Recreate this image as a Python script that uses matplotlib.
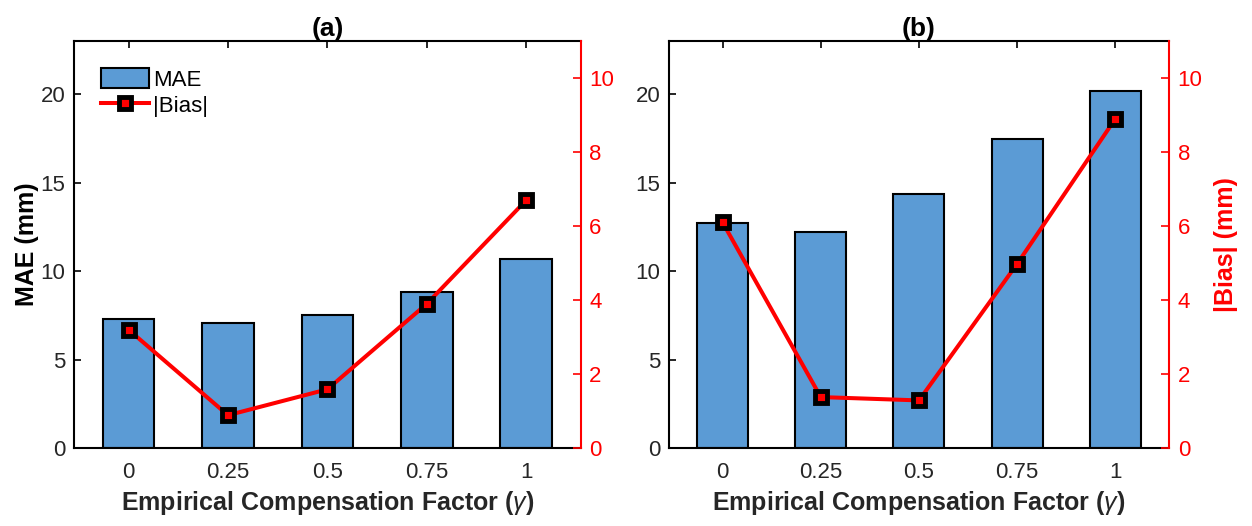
import matplotlib

matplotlib.use("Agg")
import matplotlib.pyplot as plt
from matplotlib.patches import Patch
from matplotlib.lines import Line2D

plt.rcParams["font.family"] = ["Liberation Sans", "DejaVu Sans"]
plt.rcParams["mathtext.fontset"] = "custom"
plt.rcParams["mathtext.it"] = "Liberation Sans:italic"

gamma = [0, 0.25, 0.5, 0.75, 1]
gamma_labels = ["0", "0.25", "0.5", "0.75", "1"]

mae_a = [7.30, 7.08, 7.50, 8.81, 10.70]
bias_a = [3.20, 0.89, 1.59, 3.90, 6.70]

mae_b = [12.70, 12.20, 14.37, 17.46, 20.20]
bias_b = [6.10, 1.38, 1.29, 4.98, 8.90]

BAR_COLOR = "#5b9bd5"
TEXT_COLOR = "#262626"
RED = "#ff0000"

line_style = dict(color=RED, linewidth=2.9, marker="s", markersize=8,
                  markerfacecolor=RED, markeredgecolor="black",
                  markeredgewidth=3.5)


def draw_panel(ax, mae, bias, title, left_label=None, right_label=None):
    ax.bar(gamma, mae, width=0.13, color=BAR_COLOR, edgecolor="black",
           linewidth=1.5, zorder=2)
    ax.set_xlim(-0.1375, 1.1375)
    ax.set_ylim(0, 23)
    ax.set_xticks(gamma)
    ax.set_xticklabels(gamma_labels)
    ax.set_yticks([0, 5, 10, 15, 20])
    ax.tick_params(axis="both", direction="in", length=5, width=1.2,
                   labelsize=16, labelcolor=TEXT_COLOR, top=True, pad=6)
    ax.tick_params(axis="x", pad=10)
    for side in ["left", "top", "bottom"]:
        ax.spines[side].set_linewidth(1.5)
        ax.spines[side].set_color("black")
    ax.spines["right"].set_visible(False)
    ax.set_xlabel(r"Empirical Compensation Factor ($\gamma$)",
                  fontsize=18, fontweight="bold", color=TEXT_COLOR, labelpad=4)
    ax.set_title(title, fontsize=19, fontweight="bold", pad=0)
    if left_label:
        ax.set_ylabel(left_label, fontsize=18, fontweight="bold", color="black",
                      labelpad=1)

    ax2 = ax.twinx()
    ax2.plot(gamma, bias, zorder=3, **line_style)
    ax2.set_ylim(0, 11)
    ax2.set_yticks([0, 2, 4, 6, 8, 10])
    ax2.tick_params(axis="y", direction="in", length=6, width=1.2,
                    colors=RED, labelsize=16, pad=6)
    ax2.spines["right"].set_color(RED)
    ax2.spines["right"].set_linewidth(1.5)
    for side in ["left", "top", "bottom"]:
        ax2.spines[side].set_visible(False)
    if right_label:
        ax2.set_ylabel(right_label, fontsize=18, fontweight="bold", color=RED,
                       labelpad=8)
    return ax2


fig = plt.figure(figsize=(12.52, 5.26), dpi=100)
ax_a = fig.add_axes([0.059, 0.148, 0.405, 0.774])
ax_b = fig.add_axes([0.534, 0.148, 0.400, 0.774])

ax2_a = draw_panel(ax_a, mae_a, bias_a, "(a)", left_label="MAE (mm)")
ax2_b = draw_panel(ax_b, mae_b, bias_b, "(b)", right_label="|Bias| (mm)")

handles = [
    Patch(facecolor=BAR_COLOR, edgecolor="black", linewidth=1.5),
    Line2D([], [], **line_style),
]
ax2_a.legend(handles, ["MAE", "|Bias|"], loc="upper left", frameon=False,
             fontsize=16, bbox_to_anchor=(0.035, 0.955), handlelength=2.2,
             handleheight=1.0, handletextpad=0.15, labelspacing=0.15,
             borderaxespad=0)

fig.savefig("out.png", dpi=100)
